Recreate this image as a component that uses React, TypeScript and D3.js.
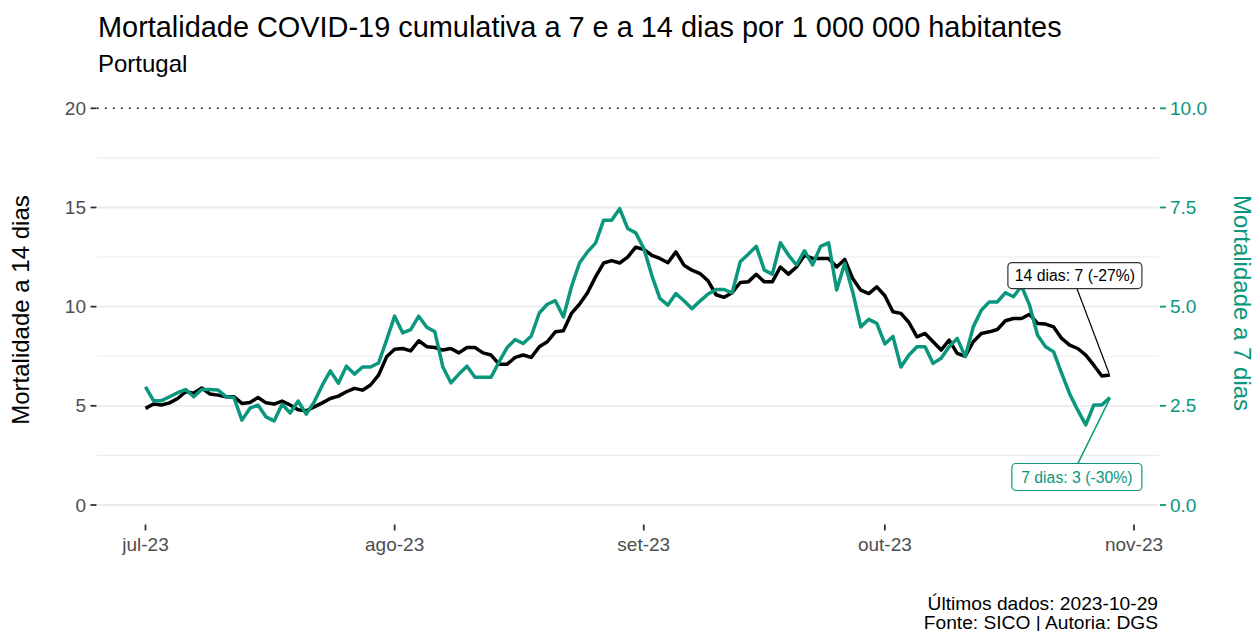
import React from 'react';
import * as d3 from 'd3';

// ---------- data ----------
const startDate = '2023-07-01';
const lastDate = '2023-10-29';

// 14-day cumulative mortality per 1 000 000 (left axis)
const mort14 = [
  4.87, 5.09, 5.04, 5.15, 5.37, 5.71, 5.63, 5.9, 5.6, 5.54,
  5.46, 5.46, 5.12, 5.17, 5.42, 5.15, 5.09, 5.24, 5.04, 4.8,
  4.75, 4.95, 5.15, 5.37, 5.49, 5.71, 5.88, 5.79, 6.05, 6.55,
  7.47, 7.85, 7.89, 7.77, 8.28, 7.98, 7.94, 7.81, 7.89, 7.67,
  7.94, 7.94, 7.67, 7.56, 7.1, 7.1, 7.44, 7.56, 7.44, 7.98,
  8.23, 8.73, 8.78, 9.66, 10.12, 10.7, 11.5, 12.2, 12.32, 12.2,
  12.5, 13.0, 12.88, 12.59, 12.43, 12.21, 12.76, 12.09, 11.84, 11.67,
  11.3, 10.6, 10.47, 10.7, 11.22, 11.25, 11.63, 11.25, 11.25, 12.0,
  11.64, 12.0, 12.59, 12.43, 12.43, 12.43, 12.0, 12.38, 11.42, 10.83,
  10.66, 11.0, 10.55, 9.74, 9.66, 9.2, 8.48, 8.65, 8.23, 7.81,
  8.31, 7.64, 7.5, 8.23, 8.65, 8.73, 8.85, 9.29, 9.4, 9.4,
  9.62, 9.15, 9.12, 8.98, 8.4, 8.06, 7.89, 7.56, 7.05, 6.5,
  6.55,
];

// 7-day cumulative mortality per 1 000 000 (right axis)
const mort7 = [
  2.98, 2.63, 2.63, 2.73, 2.83, 2.91, 2.73, 2.91, 2.91, 2.9,
  2.73, 2.71, 2.14, 2.44, 2.52, 2.22, 2.12, 2.54, 2.32, 2.62,
  2.29, 2.6, 3.02, 3.38, 3.07, 3.5, 3.3, 3.48, 3.48, 3.58,
  4.16, 4.76, 4.34, 4.42, 4.76, 4.48, 4.37, 3.48, 3.08, 3.3,
  3.5, 3.22, 3.22, 3.22, 3.61, 3.97, 4.17, 4.07, 4.26, 4.84,
  5.06, 5.15, 4.74, 5.5, 6.1, 6.38, 6.6, 7.18, 7.18, 7.47,
  6.97, 6.86, 6.47, 5.79, 5.21, 5.04, 5.33, 5.15, 4.95, 5.14,
  5.32, 5.43, 5.43, 5.35, 6.13, 6.32, 6.52, 5.92, 5.82, 6.61,
  6.3, 6.05, 6.41, 6.05, 6.52, 6.61, 5.42, 6.09, 5.37, 4.49,
  4.68, 4.58, 4.06, 4.25, 3.48, 3.78, 3.99, 3.99, 3.57, 3.7,
  3.99, 4.2, 3.74, 4.49, 4.91, 5.12, 5.12, 5.35, 5.25, 5.52,
  5.04, 4.28, 3.99, 3.86, 3.32, 2.8, 2.39, 2.02, 2.52, 2.52,
  2.71,
];

const leftTicks = [0, 5, 10, 15, 20];
const leftMinor = [2.5, 7.5, 12.5, 17.5];
const rightTicks = [0, 2.5, 5, 7.5, 10];
const xTickDates = ['2023-07-01', '2023-08-01', '2023-09-01', '2023-10-01', '2023-11-01'];
const xTickLabels = ['jul-23', 'ago-23', 'set-23', 'out-23', 'nov-23'];

const titleText = 'Mortalidade COVID-19 cumulativa a 7 e a 14 dias por 1 000 000 habitantes';
const subtitleText = 'Portugal';
const leftAxisTitle = 'Mortalidade a 14 dias';
const rightAxisTitle = 'Mortalidade a 7 dias';
const captionLines = ['Últimos dados: 2023-10-29', 'Fonte: SICO | Autoria: DGS'];
const label14 = '14 dias: 7 (-27%)';
const label7 = '7 dias: 3 (-30%)';

// ---------- style ----------
const W = 1257;
const H = 631;
const FONT = '"Liberation Sans", Arial, Helvetica, sans-serif';
const TEAL = '#0a977d';
const GREY_TXT = '#4d4d4d';
const GRID = '#ebebeb';

const parse = d3.timeParse('%Y-%m-%d');

export default function App() {
  const start = parse(startDate) as Date;
  const end = parse(lastDate) as Date;
  const dates = d3.timeDay.range(start, d3.timeDay.offset(end, 1));

  const x = d3
    .scaleTime()
    .domain([parse('2023-07-01') as Date, parse('2023-11-01') as Date])
    .range([145.5, 1134]);
  const yL = d3.scaleLinear().domain([0, 20]).range([505, 108.3]);
  const yR = d3.scaleLinear().domain([0, 10]).range([505, 108.3]);

  const panelLeft = 97;
  const panelRight = 1159;

  const line14 = d3
    .line<number>()
    .x((_, i) => x(dates[i]))
    .y((d) => yL(d))(mort14) as string;
  const line7 = d3
    .line<number>()
    .x((_, i) => x(dates[i]))
    .y((d) => yR(d))(mort7) as string;

  const n = mort14.length - 1;
  const p14 = { x: x(dates[n]), y: yL(mort14[n]) };
  const p7 = { x: x(dates[mort7.length - 1]), y: yR(mort7[mort7.length - 1]) };

  // label boxes (positioned relative to end points)
  const box14 = { cx: p14.x - 35, cy: p14.y - 99.5, w: 134, h: 26 };
  const box7 = { cx: p7.x - 33, cy: p7.y + 79.5, w: 130, h: 27 };

  return (
    <svg
      width={W}
      height={H}
      viewBox={`0 0 ${W} ${H}`}
      style={{ position: 'absolute', left: 0, top: 0, background: '#fff', fontFamily: FONT }}
    >
      {/* title */}
      <text x={98} y={37} fontSize={28.9} fill="#000">
        {titleText}
      </text>
      <text x={98} y={72} fontSize={24} fill="#000">
        {subtitleText}
      </text>

      {/* grid */}
      {leftMinor.map((v) => (
        <line key={'mn' + v} x1={panelLeft} x2={panelRight} y1={yL(v)} y2={yL(v)} stroke={GRID} strokeWidth={1.1} />
      ))}
      {leftTicks
        .filter((v) => v < 20)
        .map((v) => (
          <line key={'mj' + v} x1={panelLeft} x2={panelRight} y1={yL(v)} y2={yL(v)} stroke={GRID} strokeWidth={1.8} />
        ))}
      {/* dotted reference at 20 */}
      <line
        x1={panelLeft}
        x2={panelRight}
        y1={yL(20)}
        y2={yL(20)}
        stroke="#000"
        strokeWidth={1.6}
        strokeDasharray="1.6 6.4"
      />

      {/* left axis */}
      {leftTicks.map((v) => (
        <g key={'lt' + v}>
          <line x1={90.5} x2={96.5} y1={yL(v)} y2={yL(v)} stroke="#333" strokeWidth={1.8} />
          <text x={86} y={yL(v)} dy="0.35em" textAnchor="end" fontSize={19} fill={GREY_TXT}>
            {v}
          </text>
        </g>
      ))}
      <text
        transform={`translate(29, 310) rotate(-90)`}
        textAnchor="middle"
        fontSize={24}
        fill="#000"
      >
        {leftAxisTitle}
      </text>

      {/* right axis */}
      {rightTicks.map((v) => (
        <g key={'rt' + v}>
          <line x1={1160} x2={1166} y1={yR(v)} y2={yR(v)} stroke={TEAL} strokeWidth={1.8} />
          <text x={1170} y={yR(v)} dy="0.35em" textAnchor="start" fontSize={19} fill={TEAL}>
            {v.toFixed(1)}
          </text>
        </g>
      ))}
      <text
        transform={`translate(1234, 303) rotate(90)`}
        textAnchor="middle"
        fontSize={24}
        fill={TEAL}
      >
        {rightAxisTitle}
      </text>

      {/* x axis */}
      {xTickDates.map((d, i) => {
        const xx = x(parse(d) as Date);
        return (
          <g key={d}>
            <line x1={xx} x2={xx} y1={524.5} y2={530.5} stroke="#333" strokeWidth={1.8} />
            <text x={xx} y={551} textAnchor="middle" fontSize={19} fill={GREY_TXT}>
              {xTickLabels[i]}
            </text>
          </g>
        );
      })}

      {/* series */}
      <path d={line14} fill="none" stroke="#000" strokeWidth={3.5} strokeLinejoin="round" strokeLinecap="butt" />
      <path d={line7} fill="none" stroke={TEAL} strokeWidth={3.5} strokeLinejoin="round" strokeLinecap="butt" />

      {/* label 14 dias */}
      <line x1={box14.cx + 2} y1={box14.cy + box14.h / 2} x2={p14.x - 1} y2={p14.y - 2} stroke="#000" strokeWidth={1.2} />
      <rect
        x={box14.cx - box14.w / 2}
        y={box14.cy - box14.h / 2}
        width={box14.w}
        height={box14.h}
        rx={4}
        fill="#fff"
        stroke="#333"
        strokeWidth={1.2}
      />
      <text x={box14.cx} y={box14.cy} dy="0.36em" textAnchor="middle" fontSize={15.8} fill="#000">
        {label14}
      </text>

      {/* label 7 dias */}
      <line x1={box7.cx + 1} y1={box7.cy - box7.h / 2} x2={p7.x} y2={p7.y + 1} stroke={TEAL} strokeWidth={1.6} />
      <rect
        x={box7.cx - box7.w / 2}
        y={box7.cy - box7.h / 2}
        width={box7.w}
        height={box7.h}
        rx={4}
        fill="#fff"
        stroke={TEAL}
        strokeWidth={1.2}
      />
      <text x={box7.cx} y={box7.cy} dy="0.36em" textAnchor="middle" fontSize={15.8} fill={TEAL}>
        {label7}
      </text>

      {/* caption */}
      {captionLines.map((c, i) => (
        <text key={c} x={1158} y={609.5 + i * 19} textAnchor="end" fontSize={19.2} fill="#000">
          {c}
        </text>
      ))}
    </svg>
  );
}
